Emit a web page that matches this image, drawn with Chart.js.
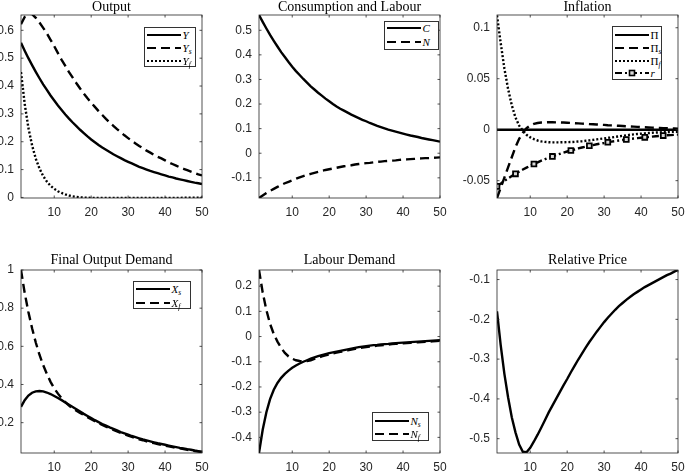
<!DOCTYPE html>
<html>
<head>
<meta charset="utf-8">
<title>Impulse responses</title>
<script src="https://cdn.jsdelivr.net/npm/chart.js"></script>
<style>
  html, body { margin: 0; padding: 0; background: #fff; }
  #fig { position: relative; width: 685px; height: 472px; overflow: hidden; }
  #fig canvas { position: absolute; }
  .legend { position: absolute; box-sizing: border-box; border: 1px solid #333; background: #fff;
            font-family: "Liberation Serif", serif; font-size: 11px; color: #000; }
  .legend svg { position: absolute; left: 0; }
  .legend .lbl { position: absolute; line-height: 12px; white-space: nowrap; }
  .legend sub { font-size: 7.5px; vertical-align: baseline; position: relative; top: 2px; }
</style>
</head>
<body>
<div id="fig"></div>
<script>
// horizon (quarters after the shock)
const periods = Array.from({ length: 50 }, (_, i) => i + 1);
const xTickValues = [10, 20, 30, 40, 50];

// Output
const outputY = [
  0.555, 0.527, 0.500, 0.475, 0.451, 0.428, 0.406, 0.386, 0.366, 0.348,
  0.330, 0.314, 0.298, 0.283, 0.269, 0.256, 0.243, 0.231, 0.219, 0.208,
  0.198, 0.188, 0.179, 0.171, 0.163, 0.155, 0.148, 0.141, 0.134, 0.128,
  0.122, 0.116, 0.110, 0.105, 0.100, 0.095, 0.091, 0.087, 0.083, 0.079,
  0.075, 0.072, 0.068, 0.065, 0.062, 0.059, 0.056, 0.053, 0.051, 0.048
];
const outputYs = [
  0.622, 0.648, 0.660, 0.658, 0.645, 0.628, 0.609, 0.589, 0.566, 0.543,
  0.518, 0.494, 0.472, 0.450, 0.430, 0.410, 0.391, 0.373, 0.356, 0.340,
  0.325, 0.310, 0.296, 0.282, 0.269, 0.257, 0.245, 0.234, 0.223, 0.213,
  0.203, 0.194, 0.185, 0.177, 0.168, 0.161, 0.153, 0.146, 0.140, 0.133,
  0.126, 0.120, 0.114, 0.108, 0.103, 0.098, 0.093, 0.088, 0.083, 0.079
];
const outputYf = [
  0.450, 0.336, 0.250, 0.187, 0.139, 0.104, 0.077, 0.057, 0.042, 0.031,
  0.022, 0.016, 0.011, 0.007, 0.004, 0.002, 0.0005, -0.0005, -0.001, -0.0015,
  -0.002, -0.002, -0.002, -0.002, -0.002, -0.002, -0.002, -0.002, -0.002, -0.002,
  -0.002, -0.002, -0.0019, -0.0019, -0.0018, -0.0018, -0.0017, -0.0017, -0.0016, -0.0016,
  -0.0015, -0.0015, -0.0014, -0.0014, -0.0013, -0.0013, -0.0012, -0.0012, -0.0011, -0.0011
];
const outputTicks = [0, 0.1, 0.2, 0.3, 0.4, 0.5, 0.6];

// Consumption and Labour
const consumptionC = [
  0.562, 0.534, 0.507, 0.481, 0.457, 0.434, 0.411, 0.391, 0.371, 0.352,
  0.334, 0.318, 0.302, 0.287, 0.272, 0.259, 0.246, 0.234, 0.222, 0.211,
  0.200, 0.190, 0.181, 0.173, 0.165, 0.157, 0.150, 0.143, 0.136, 0.130,
  0.123, 0.117, 0.111, 0.106, 0.101, 0.096, 0.092, 0.088, 0.084, 0.080,
  0.076, 0.072, 0.069, 0.066, 0.062, 0.059, 0.056, 0.053, 0.050, 0.047
];
const labourN = [
  -0.182, -0.172, -0.162, -0.153, -0.145, -0.137, -0.129, -0.122, -0.116, -0.110,
  -0.104, -0.098, -0.093, -0.088, -0.084, -0.080, -0.076, -0.072, -0.068, -0.065,
  -0.062, -0.059, -0.056, -0.053, -0.051, -0.049, -0.046, -0.044, -0.042, -0.040,
  -0.039, -0.037, -0.035, -0.034, -0.032, -0.031, -0.030, -0.029, -0.027, -0.026,
  -0.025, -0.024, -0.023, -0.022, -0.021, -0.020, -0.020, -0.019, -0.018, -0.017
];
const consumptionTicks = [-0.1, 0, 0.1, 0.2, 0.3, 0.4, 0.5];

// Inflation
const inflationPi = [
  0, 0, 0, 0, 0, 0, 0, 0, 0, 0,
  0, 0, 0, 0, 0, 0, 0, 0, 0, 0,
  0, 0, 0, 0, 0, 0, 0, 0, 0, 0,
  0, 0, 0, 0, 0, 0, 0, 0, 0, 0,
  0, 0, 0, 0, 0, 0, 0, 0, 0, 0
];
const inflationPis = [
  -0.067, -0.057, -0.047, -0.037, -0.027, -0.017, -0.009, -0.003, 0.0015, 0.0042,
  0.0058, 0.0066, 0.0070, 0.0072, 0.0073, 0.0073, 0.0072, 0.0071, 0.0070, 0.0068,
  0.0066, 0.0064, 0.0062, 0.0060, 0.0058, 0.0055, 0.0053, 0.0051, 0.0049, 0.0047,
  0.0044, 0.0042, 0.0040, 0.0038, 0.0036, 0.0034, 0.0032, 0.0030, 0.0028, 0.0026,
  0.0024, 0.0022, 0.0020, 0.0018, 0.0017, 0.0015, 0.0014, 0.0012, 0.0011, 0.0010
];
const inflationPif = [
  0.112, 0.085, 0.060, 0.040, 0.024, 0.012, 0.004, -0.001, -0.005, -0.0075,
  -0.0093, -0.0106, -0.0115, -0.0120, -0.0123, -0.0124, -0.0124, -0.0124, -0.0123, -0.0122,
  -0.0121, -0.0119, -0.0116, -0.0113, -0.0109, -0.0105, -0.0100, -0.0095, -0.0090, -0.0085,
  -0.0080, -0.0076, -0.0071, -0.0066, -0.0060, -0.0055, -0.0050, -0.0046, -0.0042, -0.0039,
  -0.0036, -0.0033, -0.0030, -0.0028, -0.0026, -0.0024, -0.0023, -0.0022, -0.0021, -0.0020
];
const rateR = [
  -0.0556, -0.0529, -0.0503, -0.0478, -0.0455, -0.0433, -0.0411, -0.0391, -0.0372, -0.0354,
  -0.0336, -0.0320, -0.0304, -0.0289, -0.0275, -0.0262, -0.0249, -0.0237, -0.0225, -0.0214,
  -0.0204, -0.0194, -0.0184, -0.0175, -0.0167, -0.0158, -0.0151, -0.0143, -0.0136, -0.0130,
  -0.0123, -0.0117, -0.0112, -0.0106, -0.0101, -0.0096, -0.0091, -0.0087, -0.0083, -0.0079,
  -0.0075, -0.0071, -0.0068, -0.0064, -0.0061, -0.0058, -0.0055, -0.0053, -0.0050, -0.0048
];
const inflationTicks = [-0.05, 0, 0.05, 0.1];

// Final Output Demand
const demandXs = [
  0.283, 0.318, 0.342, 0.357, 0.364, 0.366, 0.364, 0.358, 0.350, 0.340,
  0.329, 0.318, 0.306, 0.294, 0.282, 0.270, 0.258, 0.246, 0.235, 0.224,
  0.213, 0.203, 0.193, 0.184, 0.175, 0.167, 0.159, 0.151, 0.144, 0.137,
  0.130, 0.124, 0.118, 0.112, 0.107, 0.102, 0.097, 0.092, 0.088, 0.084,
  0.080, 0.076, 0.072, 0.068, 0.065, 0.061, 0.058, 0.054, 0.051, 0.048
];
const demandXf = [
  1.000, 0.880, 0.780, 0.695, 0.620, 0.556, 0.502, 0.455, 0.414, 0.380,
  0.352, 0.328, 0.307, 0.289, 0.275, 0.263, 0.251, 0.240, 0.229, 0.218,
  0.208, 0.198, 0.188, 0.179, 0.170, 0.162, 0.154, 0.146, 0.139, 0.132,
  0.125, 0.119, 0.113, 0.108, 0.102, 0.097, 0.093, 0.088, 0.084, 0.080,
  0.076, 0.072, 0.068, 0.065, 0.061, 0.058, 0.055, 0.051, 0.048, 0.045
];
const demandTicks = [0.2, 0.4, 0.6, 0.8, 1];

// Labour Demand
const labourNs = [
  -0.462, -0.370, -0.300, -0.248, -0.211, -0.184, -0.164, -0.148, -0.135, -0.124,
  -0.115, -0.107, -0.100, -0.094, -0.088, -0.083, -0.078, -0.074, -0.070, -0.066,
  -0.063, -0.060, -0.057, -0.054, -0.051, -0.048, -0.045, -0.042, -0.040, -0.038,
  -0.036, -0.034, -0.033, -0.031, -0.030, -0.029, -0.027, -0.026, -0.025, -0.024,
  -0.023, -0.022, -0.021, -0.020, -0.019, -0.018, -0.017, -0.016, -0.015, -0.014
];
const labourNf = [
  0.264, 0.175, 0.105, 0.050, 0.010, -0.020, -0.045, -0.065, -0.079, -0.088,
  -0.094, -0.097, -0.098, -0.097, -0.094, -0.089, -0.084, -0.079, -0.075, -0.071,
  -0.067, -0.064, -0.061, -0.058, -0.055, -0.052, -0.049, -0.046, -0.044, -0.042,
  -0.040, -0.038, -0.036, -0.035, -0.033, -0.032, -0.030, -0.029, -0.028, -0.027,
  -0.026, -0.025, -0.024, -0.023, -0.022, -0.021, -0.020, -0.019, -0.018, -0.017
];
const labourTicks = [-0.4, -0.3, -0.2, -0.1, 0, 0.1, 0.2];

// Relative Price
const relativePrice = [
  -0.180, -0.265, -0.337, -0.396, -0.446, -0.484, -0.515, -0.533, -0.534, -0.523,
  -0.507, -0.490, -0.472, -0.453, -0.434, -0.417, -0.400, -0.383, -0.366, -0.350,
  -0.333, -0.317, -0.301, -0.286, -0.271, -0.257, -0.244, -0.231, -0.219, -0.207,
  -0.196, -0.186, -0.176, -0.167, -0.159, -0.151, -0.144, -0.137, -0.131, -0.125,
  -0.119, -0.114, -0.109, -0.104, -0.099, -0.094, -0.089, -0.085, -0.080, -0.076
];
const priceTicks = [-0.5, -0.4, -0.3, -0.2, -0.1];

const lineStyles = {
  solid: [],
  dashed: [9, 5],
  dotted: [2, 2],
  dashdot: [7, 3, 2, 3]
};

// layout, in page pixels
const PLOT_W = 181, PLOT_H = 183, AXIS_W = 40, XAXIS_H = 24;

const panels = [
  { title: 'Output', left: 21, top: 15, titleH: 15, yMin: -0.002, yMax: 0.655, yTicks: outputTicks,
    series: [
      { values: outputY, style: 'solid', label: '<i>Y</i>' },
      { values: outputYs, style: 'dashed', label: '<i>Y<sub>s</sub></i>' },
      { values: outputYf, style: 'dotted', label: '<i>Y<sub>f</sub></i>' }
    ],
    legend: { x: 144, y: 27, w: 52, h: 40, rows: [6.5, 19.5, 32.5] } },
  { title: 'Consumption and Labour', left: 259, top: 15, titleH: 15, yMin: -0.182, yMax: 0.562, yTicks: consumptionTicks,
    series: [
      { values: consumptionC, style: 'solid', label: '<i>C</i>' },
      { values: labourN, style: 'dashed', label: '<i>N</i>' }
    ],
    legend: { x: 384, y: 21, w: 55, h: 29, rows: [6, 20] } },
  { title: 'Inflation', left: 497, top: 15, titleH: 15, yMin: -0.067, yMax: 0.1125, yTicks: inflationTicks,
    series: [
      { values: inflationPi, style: 'solid', label: 'Π' },
      { values: inflationPis, style: 'dashed', label: 'Π<sub><i>s</i></sub>' },
      { values: inflationPif, style: 'dotted', label: 'Π<sub><i>f</i></sub>' },
      { values: rateR, style: 'dashdot', marker: true, label: '<i>r</i>' }
    ],
    legend: { x: 612, y: 26, w: 50, h: 54, rows: [7.5, 20.5, 33.5, 46] } },
  { title: 'Final Output Demand', left: 21, top: 270, titleH: 17, yMin: 0.041, yMax: 1.0, yTicks: demandTicks,
    series: [
      { values: demandXs, style: 'solid', label: '<i>X<sub>s</sub></i>' },
      { values: demandXf, style: 'dashed', label: '<i>X<sub>f</sub></i>' }
    ],
    legend: { x: 133, y: 281, w: 58, h: 28, rows: [7, 21] } },
  { title: 'Labour Demand', left: 259, top: 270, titleH: 17, yMin: -0.462, yMax: 0.264, yTicks: labourTicks,
    series: [
      { values: labourNs, style: 'solid', label: '<i>N<sub>s</sub></i>' },
      { values: labourNf, style: 'dashed', label: '<i>N<sub>f</sub></i>' }
    ],
    legend: { x: 372, y: 412, w: 57, h: 29, rows: [8, 21] } },
  { title: 'Relative Price', left: 497, top: 270, titleH: 17, yMin: -0.536, yMax: -0.076, yTicks: priceTicks,
    series: [
      { values: relativePrice, style: 'solid' }
    ] }
];

// MATLAB style box with inward tick marks
const axesBox = {
  id: 'axesBox',
  afterDatasetsDraw(chart) {
    const { ctx, chartArea: a, scales } = chart;
    ctx.save();
    ctx.strokeStyle = '#262626';
    ctx.lineWidth = 0.8;
    ctx.setLineDash([]);
    ctx.strokeRect(a.left, a.top, a.right - a.left, a.bottom - a.top);
    ctx.beginPath();
    scales.x.ticks.forEach(t => {
      const px = scales.x.getPixelForValue(t.value);
      ctx.moveTo(px, a.bottom); ctx.lineTo(px, a.bottom - 2.5);
      ctx.moveTo(px, a.top); ctx.lineTo(px, a.top + 2.5);
    });
    scales.y.ticks.forEach(t => {
      const py = scales.y.getPixelForValue(t.value);
      ctx.moveTo(a.left, py); ctx.lineTo(a.left + 2.5, py);
      ctx.moveTo(a.right, py); ctx.lineTo(a.right - 2.5, py);
    });
    ctx.stroke();
    ctx.restore();
  }
};

const tickFont = { family: 'Liberation Sans', size: 12 };
const fig = document.getElementById('fig');

function addLegend(spec, series) {
  const box = document.createElement('div');
  box.className = 'legend';
  box.style.left = spec.x + 'px';
  box.style.top = spec.y + 'px';
  box.style.width = spec.w + 'px';
  box.style.height = spec.h + 'px';
  series.forEach((s, i) => {
    const cy = spec.rows[i];
    const dash = lineStyles[s.style].length ? lineStyles[s.style].join(' ') : 'none';
    let svg = `<svg width="40" height="12" style="top:${cy - 6}px">` +
      `<line x1="2" y1="6" x2="36" y2="6" stroke="#000" stroke-width="2" stroke-dasharray="${dash}"/>`;
    if (s.marker) {
      svg += '<rect x="16.5" y="3.5" width="5" height="5" fill="#d9d9d9" stroke="#000" stroke-width="1.6"/>';
    }
    svg += '</svg>';
    box.insertAdjacentHTML('beforeend', svg +
      `<span class="lbl" style="top:${cy - 6}px;left:37.5px">${s.label}</span>`);
  });
  fig.appendChild(box);
}

panels.forEach(p => {
  const canvas = document.createElement('canvas');
  const w = PLOT_W + 2 * AXIS_W;
  const h = p.titleH + PLOT_H + XAXIS_H;
  canvas.width = w;
  canvas.height = h;
  canvas.style.left = (p.left - AXIS_W) + 'px';
  canvas.style.top = (p.top - p.titleH) + 'px';
  canvas.style.width = w + 'px';
  canvas.style.height = h + 'px';
  fig.appendChild(canvas);

  new Chart(canvas, {
    type: 'line',
    data: {
      datasets: p.series.map(s => ({
        data: periods.map((t, i) => ({ x: t, y: s.values[i] })),
        xAxisID: 'x',
        yAxisID: 'y',
        borderColor: '#000',
        borderWidth: 2.4,
        borderDash: lineStyles[s.style],
        pointRadius: s.marker ? periods.map((t, i) => (i % 5 === 0 ? 3.4 : 0)) : 0,
        pointStyle: 'rect',
        pointBorderWidth: 1.8,
        pointBorderColor: '#000',
        pointBackgroundColor: '#d9d9d9',
        tension: 0,
        fill: false
      }))
    },
    options: {
      responsive: false,
      animation: false,
      events: [],
      plugins: {
        legend: { display: false },
        tooltip: { enabled: false },
        title: {
          display: true,
          text: p.title,
          color: '#000',
          font: { family: 'Liberation Serif', size: 14, weight: 'normal', lineHeight: 1 },
          padding: { top: 0, bottom: p.titleH - 14 }
        }
      },
      scales: {
        x: {
          type: 'linear', min: 1, max: 50,
          afterBuildTicks: s => { s.ticks = xTickValues.map(v => ({ value: v })); },
          afterFit: s => { s.height = XAXIS_H; },
          grid: { display: false, drawTicks: false },
          border: { display: false },
          ticks: { padding: 7, color: '#262626', font: tickFont, maxRotation: 0, autoSkip: false,
                   callback: v => String(v) }
        },
        y: {
          position: 'left', min: p.yMin, max: p.yMax,
          afterBuildTicks: s => { s.ticks = p.yTicks.map(v => ({ value: v })); },
          afterFit: s => { s.width = AXIS_W; },
          grid: { display: false, drawTicks: false },
          border: { display: false },
          ticks: { padding: 7, color: '#262626', font: tickFont, autoSkip: false,
                   callback: v => String(v) }
        },
        y2: {
          position: 'right', min: 0, max: 1,
          afterFit: s => { s.width = AXIS_W; },
          grid: { display: false, drawTicks: false },
          border: { display: false },
          ticks: { display: false }
        }
      }
    },
    plugins: [axesBox]
  });

  if (p.legend) addLegend(p.legend, p.series);
});
</script>
</body>
</html>
